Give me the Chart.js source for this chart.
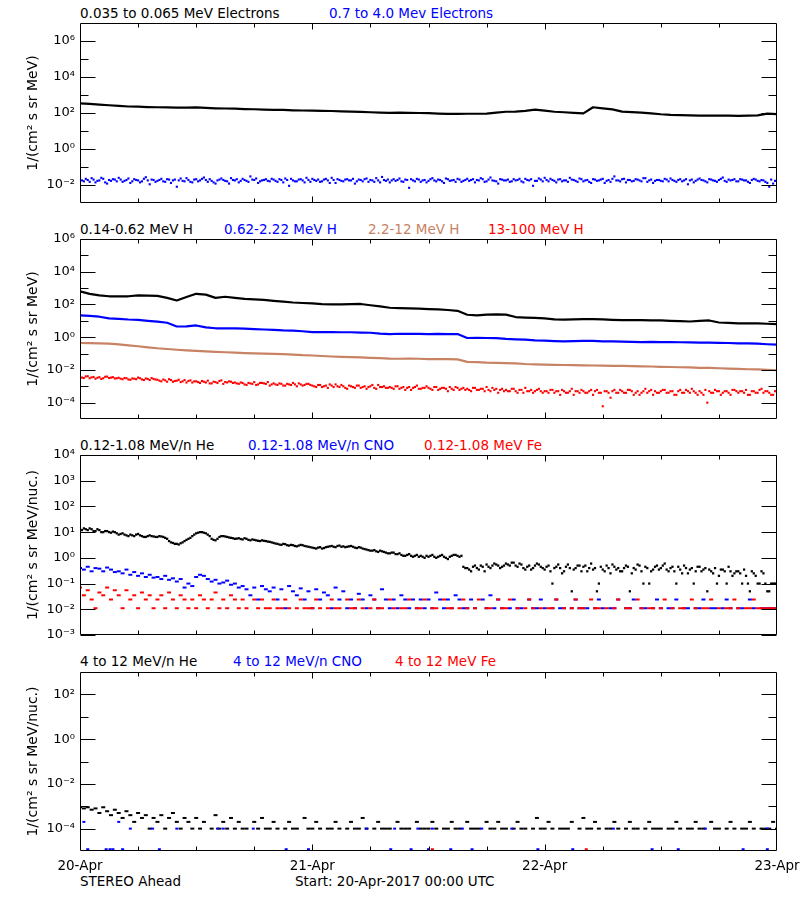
<!DOCTYPE html>
<html><head><meta charset="utf-8">
<script src="https://cdn.jsdelivr.net/npm/chart.js@4.4.1/dist/chart.umd.min.js"></script>
<style>
body{margin:0;background:#fff;width:800px;height:900px;position:relative;overflow:hidden;font-family:"DejaVu Sans",sans-serif;}
canvas{position:absolute;left:0;}
.t{position:absolute;font-size:13.5px;line-height:16px;white-space:nowrap;}
</style></head><body>
<div class="t" style="left:80px;top:5px;color:#000">0.035 to 0.065 MeV Electrons</div>
<div class="t" style="left:329px;top:5px;color:#0000ff">0.7 to 4.0 Mev Electrons</div>
<div class="t" style="left:80px;top:221px;color:#000">0.14-0.62 MeV H</div>
<div class="t" style="left:224px;top:221px;color:#0000ff">0.62-2.22 MeV H</div>
<div class="t" style="left:368px;top:221px;color:rgb(200,130,100)">2.2-12 MeV H</div>
<div class="t" style="left:488px;top:221px;color:#ff0000">13-100 MeV H</div>
<div class="t" style="left:80px;top:437px;color:#000">0.12-1.08 MeV/n He</div>
<div class="t" style="left:248px;top:437px;color:#0000ff">0.12-1.08 MeV/n CNO</div>
<div class="t" style="left:424px;top:437px;color:#ff0000">0.12-1.08 MeV Fe</div>
<div class="t" style="left:80px;top:653px;color:#000">4 to 12 MeV/n He</div>
<div class="t" style="left:233px;top:653px;color:#0000ff">4 to 12 MeV/n CNO</div>
<div class="t" style="left:395px;top:653px;color:#ff0000">4 to 12 MeV Fe</div>
<div class="t" style="left:80px;top:873px;color:#000">STEREO Ahead</div>
<div class="t" style="left:295px;top:873px;color:#000">Start: 20-Apr-2017 00:00 UTC</div>
<canvas id="c1" width="800" height="196" style="top:15px"></canvas>
<canvas id="c2" width="800" height="196" style="top:231px"></canvas>
<canvas id="c3" width="800" height="196" style="top:447px"></canvas>
<canvas id="c4" width="800" height="212" style="top:664px"></canvas>
<script>
// ---- tick labels ----
const dayLabels = ['20-Apr','21-Apr','22-Apr','23-Apr'];
const dayTickHours = [0,24,48,72];

// ---- panel 1: electrons ----
// hourly samples
const electronLo = [347,324,295,269,251,229,224,214,209,204,
 200,200,204,191,182,178,174,166,162,155,
 151,148,141,138,135,132,129,123,120,115,
 110,105,102,105,102,100,98,93,89,89,
 91,91,93,105,117,120,132,155,135,117,
 110,102,95,209,182,158,120,112,105,95,
 85,79,76,74,71,71,72,71,69,71,
 74,93,87];
// samples on the 0.4 h grid (0.0, 0.4, ...)
const electronHi = [.021,.016,.019,.024,.014,.018,.022,.012,.017,.02,
 .025,.015,.019,.013,.021,.018,.016,.027,.011,.019,
 .017,.022,.015,.02,.018,.008,.023,.016,.019,.014,
 .021,.018,.026,.015,.017,.012,.02,.019,.016,.024,
 .018,.014,.022,.017,.03,.019,.013,.018,.021,.016,
 .02,.015,.019,.023,.009,.018,.016,.021,.014,.019,
 .022,.017,.015,.02,.018,.025,.013,.019,.016,.021,
 .018,.012,.02,.016,.023,.019,.015,.018,.028,.017,
 .014,.021,.019,.016,.02,.007,.018,.022,.015,.019,
 .017,.024,.016,.019,.013,.021,.018,.015,.02,.017,
 .022,.019,.014,.018,.021,.016,.026,.017,.012,.02,
 .018,.015,.021,.019,.016,.022,.018,.009,.017,.02,
 .025,.016,.019,.014,.021,.018,.015,.02,.017,.023,
 .016,.019,.013,.02,.018,.022,.017,.015,.03,.018,
 .021,.014,.019,.017,.02,.016,.024,.018,.013,.019,
 .017,.022,.016,.019,.015,.021,.018,.011,.02,.017,
 .023,.018,.014,.02,.017,.019,.026,.015,.018,.021,
 .016,.02,.018,.013,.022,.017,.019,.015,.008,.012,
 .018];
// samples in between (0.2, 0.6, ...)
const electronHiMid = [.018,.022,.015,.02,.017,.025,.014,.019,.021,.016,
 .02,.017,.023,.016,.019,.014,.022,.018,.02,.015,
 .019,.016,.021,.013,.02,.018,.017,.024,.015,.02,
 .016,.022,.019,.021,.014,.018,.023,.017,.012,.019,
 .021,.017,.019,.015,.02,.023,.016,.019,.017,.022,
 .017,.021,.014,.019,.022,.016,.02,.018,.025,.015,
 .019,.02,.016,.022,.013,.019,.021,.017,.02,.018,
 .022,.016,.019,.021,.015,.018,.024,.014,.019,.02,
 .018,.017,.023,.015,.019,.021,.016,.02,.018,.014,
 .021,.018,.02,.016,.023,.017,.019,.022,.015,.019,
 .017,.021,.019,.024,.015,.02,.018,.016,.021,.018,
 .02,.016,.018,.022,.014,.019,.021,.017,.023,.016,
 .019,.022,.017,.02,.016,.018,.025,.019,.015,.021,
 .018,.015,.021,.017,.02,.013,.019,.022,.018,.016,
 .022,.019,.016,.021,.018,.024,.015,.02,.017,.019,
 .016,.02,.023,.017,.019,.016,.021,.018,.014,.02,
 .019,.016,.021,.018,.015,.022,.017,.02,.019,.016,
 .021,.018,.015,.019,.02,.016,.018,.013,.02,.017];

// ---- panel 2: protons ----
const protonLow = [631,447,355,316,309,316,355,347,331,251,
 174,282,447,398,251,295,251,219,204,191,
 166,148,132,123,115,105,102,100,105,107,
 89,76,63,60,58,55,52,50,46,41,
 23.4,21.4,24,24.5,24,17,15.8,15.1,14.1,12.3,
 11.7,12.3,12.6,12.6,12.3,11.5,11,11,11,10.7,
 10.5,10,9.5,9.1,10,10.5,7.9,7.4,6.9,7.1,
 6.9,6.6,6.3];
const protonMid = [21.4,20,17.8,14.1,13.2,12,11.5,10,8.9,7.6,
 4.5,4.6,5.2,4.0,3.5,3.5,3.5,3.3,3.1,2.95,
 2.8,2.6,2.5,2.3,2.04,2.04,2.04,2.0,2.0,1.9,
 1.86,1.66,1.55,1.62,1.58,1.58,1.55,1.58,1.55,1.55,
 0.89,0.91,0.89,0.87,0.79,0.74,0.71,0.63,0.62,0.58,
 0.55,0.58,0.6,0.59,0.55,0.55,0.54,0.52,0.5,0.51,
 0.5,0.5,0.49,0.48,0.47,0.46,0.45,0.44,0.42,0.42,
 0.4,0.37,0.35];
const protonHigh = [0.44,0.43,0.42,0.40,0.36,0.32,0.28,0.24,0.21,0.19,
 0.17,0.155,0.145,0.135,0.126,0.12,0.115,0.107,0.102,0.1,
 0.095,0.091,0.085,0.079,0.076,0.071,0.066,0.063,0.06,0.058,
 0.055,0.052,0.049,0.048,0.049,0.048,0.046,0.046,0.045,0.044,
 0.031,0.030,0.028,0.027,0.026,0.025,0.023,0.022,0.021,0.0204,
 0.02,0.0195,0.019,0.0186,0.0182,0.0178,0.0174,0.017,0.0166,0.0162,
 0.0155,0.0151,0.0145,0.0141,0.0135,0.0132,0.0126,0.012,0.0115,0.011,
 0.0107,0.0102,0.0095];
const protonTop = [.0038,.0032,.0041,.0035,.0029,.0036,.0031,.0039,.0034,.003,
 .0033,.0027,.0031,.0025,.0029,.0034,.0026,.003,.0024,.0028,
 .0025,.002,.0023,.0027,.0019,.0022,.0018,.0024,.0021,.0017,
 .002,.0016,.0019,.0022,.0015,.0018,.0021,.0014,.0017,.0019,
 .0017,.0014,.0016,.0012,.0015,.0018,.0013,.0016,.0014,.0011,
 .0015,.0012,.0014,.0011,.0013,.0016,.001,.0013,.0012,.0014,
 .0011,.0009,.0012,.001,.0008,.0011,.0013,.0009,.001,.0007,
 .001,.0008,.0011,.0009,.0007,.001,.0008,.0012,.0009,.0008,
 .0009,.0007,.001,.0008,.0006,.0009,.0008,.0011,.0007,.0008,
 .0008,.0006,.0009,.0007,.0008,.0005,.0007,.0009,.0006,.0008,
 .0007,.0005,.0008,.0006,.0007,.0009,.0005,.0006,.0004,.0007,
 .0006,.0005,.0007,.0004,.0006,.0008,.0005,.0004,.0006,.0005,
 .0005,.0004,.0006,.0005,.0003,.0005,.0004,.0007,.0005,.0004,
 .0005,.0004,.0006,.0005,.0004,.00006,.0005,.0002,.0006,.0004,
 .0005,.0004,.0006,.0003,.0005,.0004,.0007,.0005,.0003,.0004,
 .0005,.0006,.0004,.0005,.0003,.0006,.0004,.0005,.0007,.0004,
 .0005,.0003,.0001,.0004,.0006,.0005,.0004,.0005,.0003,.0006,
 .0004,.0005,.0006,.0003,.0005,.0004,.0007,.0005,.0004,.0003,
 .0004];
const protonTopMid = [.0034,.004,.0031,.0037,.0033,.0028,.0038,.0032,.0036,.0031,
 .0029,.0032,.0026,.003,.0027,.0031,.0024,.0028,.0032,.0026,
 .0022,.0026,.0019,.0024,.0021,.0025,.002,.0017,.0023,.002,
 .0018,.0021,.0017,.0015,.0019,.0016,.0023,.0018,.002,.0016,
 .0015,.0017,.0013,.0016,.0014,.0012,.0016,.0015,.0018,.0013,
 .0013,.0015,.0011,.0014,.0012,.0013,.0015,.0011,.0014,.0012,
 .001,.0012,.0009,.0011,.0013,.0009,.001,.0012,.0008,.0011,
 .0009,.0011,.0008,.001,.0009,.0012,.0007,.0009,.001,.0008,
 .0008,.001,.0007,.0009,.0008,.0006,.0009,.0007,.0008,.001,
 .0007,.0009,.0006,.0008,.0007,.0009,.0006,.0008,.0007,.0006,
 .0006,.0008,.0006,.0007,.0005,.0006,.0008,.0007,.0006,.0005,
 .0005,.0007,.0005,.0006,.0004,.0005,.0006,.0005,.0007,.0004,
 .0005,.0006,.0004,.0005,.0006,.0004,.0005,.0003,.0005,.0006,
 .0004,.0005,.0003,.0006,.0004,.0005,.0004,.0005,.0004,.0006,
 .0004,.0006,.0005,.0004,.0003,.0005,.0004,.0006,.0005,.0004,
 .0006,.0004,.0005,.0003,.0005,.0004,.0006,.0004,.0005,.0003,
 .0004,.0006,.0005,.0004,.0005,.0003,.0005,.0004,.0006,.0005,
 .0005,.0004,.0003,.0005,.0004,.0006,.0004,.0005,.0003,.0005];

// ---- panel 3: 0.12-1.08 MeV/n ions ----
const heLow = [13,14,12,13,11,12,10,11,9.5,10,
 8,9,7.5,8,7,8.5,7,6.5,7.5,6.8,
 6.5,6.8,6,4.5,3.8,3.5,3.7,4.5,5.5,7,
 9,10,9.5,8,5.5,4.8,6.5,7,6.5,6,
 5.5,5.8,5.2,5.5,4.8,5,4.6,4.8,4.5,4.2,
 3.8,3.5,3.2,3.4,3,3.1,2.8,3.2,2.9,2.7,
 2.5,2.3,2.6,2.4,2.7,2.9,2.6,3,2.8,2.7,
 2.9,2.5,2.6,2.3,2.1,1.9,2,1.7,1.8,1.6,
 1.5,1.6,1.4,1.3,1.2,1.4,1.1,1.3,1.2,1.0,
 1.1,1.3,1.0,1.2,1.1,0.9,1.2,1.3,1.1,0.45,
 0.4,0.3,0.5,0.35,0.45,0.55,0.4,0.6,0.5,0.45,
 0.6,0.5,0.65,0.45,0.55,0.35,0.5,0.4,0.6,0.45,
 0.35,0.5,0.1,0.45,0.4,0.3,0.55,0.05,0.4,0.5,
 0.45,0.3,0.6,0.4,0.1,0.35,0.5,0.25,0.45,0.4,
 0.3,0.5,0.05,0.4,0.55,0.3,0.45,0.1,0.35,0.5,
 0.4,0.6,0.3,0.45,0.1,0.35,0.5,0.25,0.4,0.3,
 0.45,0.35,0.05,0.3,0.4,0.2,0.35,0.1,0.3,0.25,
 0.3,0.1,0.2,0.05,0.25,0.1,0.3,0.1,0.05,0.1,
 0.1];
const heLowMid = [12,13,14,11,13,10,11,10,10.5,9,
 8.5,8,7,7.5,8,7.5,6.5,7,7,6.5,
 7,6.5,5.5,4,3.5,3.3,4,5,6,8,
 9.5,10,9,7,5,5.5,7,6.8,6.2,5.8,
 5.6,5.4,5.8,5,5.2,4.8,4.5,4.6,4.3,4,
 3.6,3.3,3.5,3.1,3.2,2.9,3,3.1,2.8,2.6,
 2.4,2.5,2.3,2.6,2.8,2.7,2.9,2.7,2.6,2.8,
 2.7,2.4,2.5,2.2,2,1.9,1.8,1.9,1.7,1.5,
 1.6,1.4,1.5,1.2,1.3,1.2,1.2,1.1,1.1,1.2,
 1.2,1.1,1.1,1.3,1.0,1.1,1.3,1.2,1.2,0.4,
 0.35,0.45,0.4,0.5,0.3,0.45,0.5,0.55,0.4,0.5,
 0.55,0.65,0.5,0.6,0.4,0.45,0.35,0.5,0.55,0.4,
 0.45,0.3,0.4,0.55,0.25,0.45,0.4,0.35,0.5,0.3,
 0.5,0.4,0.35,0.05,0.45,0.3,0.4,0.55,0.35,0.3,
 0.4,0.45,0.25,0.35,0.5,0.1,0.4,0.3,0.45,0.35,
 0.5,0.35,0.4,0.3,0.45,0.25,0.4,0.35,0.1,0.45,
 0.3,0.4,0.35,0.25,0.1,0.35,0.3,0.45,0.2,0.3,
 0.25,0.35,0.1,0.3,0.2,0.1,0.25,0.05,0.1,0.1];
const cnoLow = [0.4,0.35,0.45,0.3,0.4,0.38,0.3,0.42,0.35,0.28,
 0.3,0.25,0.35,0.22,0.28,0.2,0.25,0.18,0.22,0.17,
 0.18,0.15,0.2,0.14,0.16,0.12,0.15,0.07,0.1,0.08,
 0.18,0.22,0.2,0.15,0.12,0.14,0.1,0.11,0.13,0.09,
 0.1,0.07,0.08,0.06,0.035,0.07,0.024,0.08,0.06,0.05,
 0.07,0.024,0.06,0.011,0.08,0.05,0.035,0.065,0.024,0.05,
 0.011,0.06,0.024,0.045,0.035,0.011,0.07,0.024,0.05,0.011,
 0.024,0.011,0.04,0.024,0.011,0.035,0.024,0.011,0.06,0.024,
 0.011,0.024,0.011,0.035,0.024,0.011,0.024,0.011,0.024,0.011,
 0.024,0.011,0.045,0.024,0.011,0.024,0.011,0.035,0.024,0.011,
 0.011,0.024,0.011,null,0.024,0.011,0.035,0.011,0.024,0.011,
 null,0.011,0.024,0.011,0.011,null,0.024,0.011,0.011,0.024,
 0.011,null,0.011,0.024,0.011,0.011,null,0.011,0.024,0.011,
 0.011,0.011,null,0.011,0.024,0.011,null,0.011,0.011,0.024,
 null,0.011,0.011,0.024,null,0.011,0.011,null,0.011,0.024,
 0.011,null,0.011,0.011,0.024,null,0.011,0.011,null,0.011,
 0.011,0.024,null,0.011,0.011,null,0.011,0.024,0.011,null,
 0.011,0.011,null,0.024,0.011,null,0.011,0.011,0.011,0.011,
 0.011];
const feLow = [0.07,0.035,0.055,0.024,0.011,0.045,0.035,0.07,0.024,0.055,
 0.035,0.011,0.055,0.024,0.035,0.011,0.045,0.024,0.035,0.011,
 0.024,0.035,0.011,0.045,0.024,0.011,0.035,0.024,0.011,0.024,
 0.011,0.035,0.024,0.011,0.024,0.045,0.011,0.024,0.011,0.035,
 0.024,0.011,0.024,0.011,null,0.024,0.011,0.024,0.011,0.011,
 0.024,0.011,0.011,0.024,0.011,null,0.011,0.024,0.011,0.011,
 0.011,0.024,0.011,null,0.011,0.024,0.011,0.011,null,0.024,
 0.011,0.011,0.024,0.011,null,0.011,0.024,0.011,0.011,null,
 0.024,0.011,null,0.011,0.011,0.024,null,0.011,0.011,0.024,
 null,0.011,0.011,null,0.024,0.011,0.011,null,0.011,0.024,
 0.011,null,0.011,0.024,null,0.011,0.011,null,0.024,0.011,
 0.011,0.024,null,0.011,null,0.011,0.024,0.011,null,0.011,
 null,0.011,0.011,0.024,null,0.011,null,0.011,0.024,0.011,
 0.011,null,0.024,0.011,0.011,null,0.011,null,0.011,0.024,
 null,0.011,0.011,null,0.024,0.011,null,0.011,0.011,null,
 0.011,0.024,null,0.011,null,0.011,0.011,null,0.024,0.011,
 null,0.011,0.011,0.024,null,0.011,null,0.011,0.011,0.024,
 0.011,null,0.011,0.011,0.024,0.011,0.011,0.011,0.011,0.011,
 0.011];

// ---- panel 4: 4-12 MeV/n ions ----
const heHigh = [9e-4,8e-4,9e-4,7e-4,8e-4,5e-4,9e-4,6e-4,4e-4,7e-4,
 5e-4,3e-4,6e-4,4e-4,2e-4,5e-4,3e-4,4e-4,1e-4,3e-4,
 2e-4,4e-4,1e-4,3e-4,5e-4,2e-4,1e-4,3e-4,2e-4,1e-4,
 3e-4,1e-4,2e-4,null,1e-4,4e-4,1e-4,2e-4,1e-4,3e-4,
 1e-4,2e-4,1e-4,1e-4,null,2e-4,1e-4,3e-4,1e-4,1e-4,
 2e-4,1e-4,null,1e-4,2e-4,1e-4,1e-4,null,3e-4,1e-4,
 1e-4,2e-4,1e-4,null,1e-4,1e-4,2e-4,1e-4,null,1e-4,
 2e-4,1e-4,1e-4,3e-4,1e-4,null,1e-4,2e-4,1e-4,1e-4,
 1e-4,null,2e-4,1e-4,1e-4,1e-4,null,2e-4,1e-4,1e-4,
 1e-4,2e-4,1e-4,null,1e-4,1e-4,2e-4,1e-4,1e-4,null,
 2e-4,1e-4,1e-4,1e-4,null,2e-4,1e-4,1e-4,2e-4,1e-4,
 1e-4,null,1e-4,2e-4,1e-4,1e-4,null,1e-4,3e-4,1e-4,
 1e-4,2e-4,1e-4,null,1e-4,1e-4,1e-4,2e-4,null,1e-4,
 3e-4,1e-4,1e-4,2e-4,1e-4,null,1e-4,1e-4,2e-4,1e-4,
 null,1e-4,2e-4,1e-4,1e-4,null,1e-4,2e-4,1e-4,1e-4,
 1e-4,null,1e-4,1e-4,2e-4,1e-4,null,1e-4,1e-4,2e-4,
 1e-4,1e-4,null,2e-4,1e-4,1e-4,null,1e-4,2e-4,1e-4,
 null,1e-4,1e-4,2e-4,1e-4,null,1e-4,1e-4,1e-4,2e-4,
 1e-4];
const cnoHighHours = [0.4,0.8,2.7,3.1,3.4,4.0,4.4,5.2,7.5,8.2,10.0,14.2,14.8,17.9,21.3,23.6,29.6,32.1,32.5,34.2,34.9,36.0,36.4,38.3,39.5,40.5,41.5,44.6,47.3,50.9,55.1,59.1,61.8,64.6,68.5,71.0,71.0];
const cnoHigh = [2e-4,1.2e-5,1.2e-5,1.2e-5,1.2e-5,2e-4,1.2e-5,1e-4,1e-4,1.2e-5,1e-4,1e-4,1e-4,1e-4,1.2e-5,1.2e-5,1e-4,1.2e-5,1e-4,1.2e-5,1e-4,1.2e-5,1e-4,1.2e-5,1e-4,1.2e-5,1e-4,1e-4,1.2e-5,1.2e-5,1e-4,1.2e-5,1.2e-5,1e-4,1.2e-5,1.2e-5,1e-4];
const feHighHours = [36.4,52.3];
const feHigh = [1.2e-5,1.2e-5];

// ---- time stamps (hours since 20-Apr 00:00) ----
const hourTimes = Array.from({length:73},(_,i)=>i);
const fastTimes = Array.from({length:181},(_,i)=>Math.round(i*4)/10);
const fineTimes = Array.from({length:361},(_,i)=>Math.round(i*2)/10);
// merge the 0.4 h grid samples with the in-between samples
const weave = (a,b) => a.flatMap((v,i)=> i<b.length ? [v,b[i]] : [v]);

const BLACK='#000000', BLUE='#0000ff', TAN='rgb(200,130,100)', RED='#ff0000';
const SUP={'-':'⁻','0':'⁰','1':'¹','2':'²','3':'³','4':'⁴','5':'⁵','6':'⁶','7':'⁷','8':'⁸','9':'⁹'};
const sup = e => '10' + String(e).split('').map(c=>SUP[c]).join('');

Chart.defaults.font.family = '"DejaVu Sans", sans-serif';
Chart.defaults.color = '#000';

const toXY = (t, v) => v.map((y,i)=>({x:t[i], y}));
function lineDs(t, v, color, order){
  return {data:toXY(t,v), borderColor:color, borderWidth:2.2, pointRadius:0, tension:0, fill:false, borderJoinStyle:'round', order};
}
function dotDs(t, v, color, order, style, r){
  const isLine = style==='line';
  return {data:toXY(t,v), showLine:false, pointStyle:style||'rect', pointRadius:r||1.5,
    pointBackgroundColor:color, pointBorderColor:color, pointBorderWidth:isLine?2:0, order};
}

const framePlugin = {
  id:'frame',
  afterDraw(chart, args, opts){
    const {ctx, chartArea:a, scales:{x,y}} = chart;
    ctx.save(); ctx.strokeStyle='#000'; ctx.lineWidth=1; ctx.beginPath();
    const L=Math.round(a.left)+0.5, R=Math.round(a.right)-0.5, T=Math.round(a.top)+0.5, B=Math.round(a.bottom)-0.5;
    ctx.rect(L,T,R-L,B-T);
    const yt=(e,len)=>{const py=Math.round(y.getPixelForValue(Math.pow(10,e)))+0.5;
      ctx.moveTo(L,py);ctx.lineTo(L+len,py);ctx.moveTo(R,py);ctx.lineTo(R-len,py);};
    opts.major.forEach(e=>yt(e,15)); opts.minor.forEach(e=>yt(e,8));
    for(let h=6;h<72;h+=6){
      const px=Math.round(x.getPixelForValue(h))+0.5; const len=h%24===0?6:4;
      ctx.moveTo(px,B);ctx.lineTo(px,B-len);ctx.moveTo(px,T);ctx.lineTo(px,T+len);
    }
    ctx.stroke(); ctx.restore();
  }
};

function makePanel(id, cfg){
  const tickExps=[]; for(let e=cfg.minExp;e<=cfg.maxExp;e++) tickExps.push(e);
  new Chart(document.getElementById(id), {
    type:'line',
    data:{datasets:cfg.datasets},
    plugins:[framePlugin],
    options:{
      responsive:false, animation:false, events:[],
      layout:{padding:{left:0,right:23,top:8,bottom:cfg.showX?0:8}},
      plugins:{legend:{display:false}, tooltip:{enabled:false}, frame:{major:cfg.major, minor:cfg.minor}},
      scales:{
        x:{type:'linear', min:0, max:72, display:!!cfg.showX,
          grid:{display:false, drawTicks:false}, border:{display:false},
          afterBuildTicks:s=>{s.ticks=dayTickHours.map(v=>({value:v}));},
          ticks:{autoSkip:false, maxRotation:0, padding:7, font:{size:13.5}, color:'#000',
            callback:(v,i)=>dayLabels[i]},
          afterFit:s=>{ s.height = cfg.showX ? 25 : 0; s.paddingLeft=0; s.paddingRight=0;}},
        y:{type:'logarithmic', min:Math.pow(10,cfg.minExp), max:Math.pow(10,cfg.maxExp),
          grid:{display:false, drawTicks:false}, border:{display:false},
          afterBuildTicks:s=>{s.ticks=tickExps.map(e=>({value:Math.pow(10,e)}));},
          ticks:{autoSkip:false, padding:5, font:{size:13}, color:'#000',
            callback:(v)=>{const e=Math.round(Math.log10(v)); return cfg.major.includes(e)?sup(e):'';}},
          title:{display:true, text:cfg.ytitle, font:{size:14}, color:'#000', padding:{top:25,bottom:0}},
          afterFit:s=>{s.width=80; s.paddingTop=0; s.paddingBottom=0;}}
      }
    }
  });
}

makePanel('c1', {minExp:-3, maxExp:7, major:[6,4,2,0,-2], minor:[5,3,1,-1],
  ytitle:'1/(cm² s sr MeV)',
  datasets:[lineDs(hourTimes, electronLo, BLACK, 2),
    dotDs(fineTimes, weave(electronHi, electronHiMid), BLUE, 1)]});

makePanel('c2', {minExp:-5, maxExp:6, major:[6,4,2,0,-2,-4], minor:[5,3,1,-1,-3],
  ytitle:'1/(cm² s sr MeV)',
  datasets:[lineDs(hourTimes, protonLow, BLACK, 4), lineDs(hourTimes, protonMid, BLUE, 3),
    lineDs(hourTimes, protonHigh, TAN, 2),
    dotDs(fineTimes, weave(protonTop, protonTopMid), RED, 1)]});

makePanel('c3', {minExp:-3, maxExp:4, major:[4,3,2,1,0,-1,-2,-3], minor:[],
  ytitle:'1/(cm² s sr MeV/nuc.)',
  datasets:[dotDs(fineTimes, weave(heLow, heLowMid), BLACK, 3, 'rect', 1.6),
    dotDs(fastTimes, cnoLow, BLUE, 2, 'line', 2),
    dotDs(fastTimes, feLow, RED, 1, 'line', 2)]});

makePanel('c4', {minExp:-5, maxExp:3, major:[2,0,-2,-4], minor:[1,-1,-3], showX:true,
  ytitle:'1/(cm² s sr MeV/nuc.)',
  datasets:[dotDs(fastTimes, heHigh, BLACK, 3, 'line', 2), dotDs(cnoHighHours, cnoHigh, BLUE, 2, 'line', 1.5),
    dotDs(feHighHours, feHigh, RED, 1, 'line', 1.5)]});
</script>
</body></html>
